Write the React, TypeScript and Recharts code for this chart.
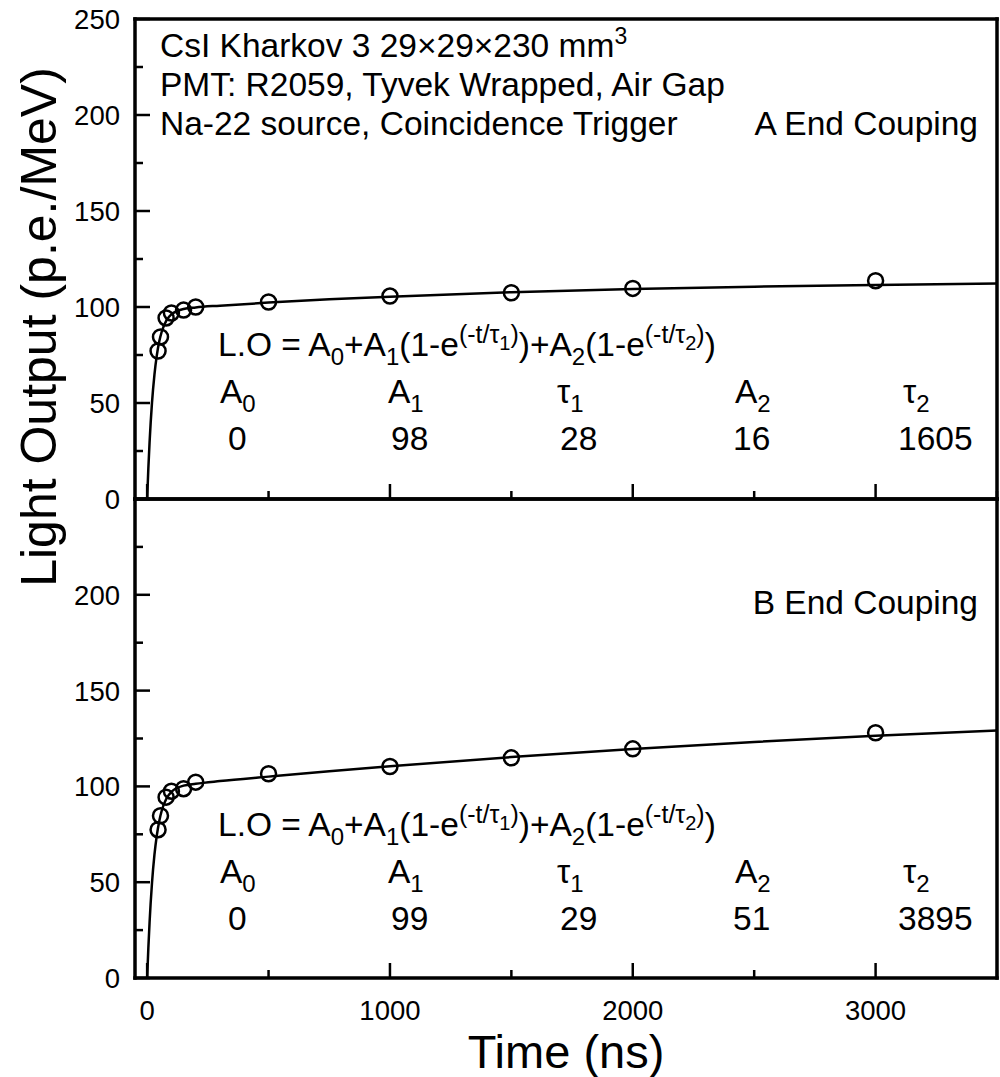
import React from 'react';
import { ComposedChart, Line, Scatter, XAxis, YAxis } from 'recharts';

// ---------- data ----------
const curveT = [0, 5, 10, 20, 30, 40, 50, 60, 80, 100, 150, 200, 300, 500, 750, 1000, 1500, 2000, 2500, 3000, 3500];
const curveA = [0, 16.1, 29.5, 50.2, 64.7, 74.9, 82.1, 87.1, 93.2, 96.2, 99.0, 99.8, 100.7, 102.3, 104.0, 105.4, 107.7, 109.4, 110.6, 111.5, 112.2];
const curveB = [0, 15.7, 29.0, 49.6, 64.2, 74.6, 82.0, 87.3, 93.8, 97.2, 100.4, 101.4, 102.8, 105.1, 107.9, 110.5, 115.3, 119.5, 123.2, 126.4, 129.2];

const pointT = [45, 55, 78, 100, 150, 200, 500, 1000, 1500, 2000, 3000];
const pointA = [77.1, 84.4, 94.3, 96.9, 98.4, 100.0, 102.6, 105.7, 107.4, 109.7, 113.7];
const pointB = [77.4, 84.7, 94.4, 97.5, 98.8, 102.2, 106.6, 110.4, 114.9, 119.6, 128.0];

const yTicks = [0, 25, 50, 75, 100, 125, 150, 175, 200, 225, 250];
const yLabelTicks = [0, 50, 100, 150, 200, 250];
const xTicks = [0, 500, 1000, 1500, 2000, 2500, 3000, 3500];
const xLabelTicks = [0, 1000, 2000, 3000];

const paramNames: [string, string][] = [['A', '0'], ['A', '1'], ['τ', '1'], ['A', '2'], ['τ', '2']];
const paramsA = ['0', '98', '28', '16', '1605'];
const paramsB = ['0', '99', '29', '51', '3895'];

const infoLines = ['PMT: R2059, Tyvek Wrapped, Air Gap', 'Na-22 source, Coincidence Trigger'];

const toRows = (xs: number[], ys: number[]) => xs.map((t, i) => ({ t, y: ys[i] }));

// ---------- styles ----------
const FONT = "'Liberation Sans', Arial, Helvetica, sans-serif";
const AX = { stroke: '#000', strokeWidth: 3.5, strokeLinecap: 'square' as const };
const TW = 2.5;
const MAJ = 15;
const MIN = 8;
const FS = 33.5;

type Seg = { t: string; s?: number; b?: number };
function Rich({ x, y, segs, size, anchor = 'start' }: { x: number; y: number; segs: Seg[]; size: number; anchor?: string }) {
  let prev = 0;
  return (
    <text x={x} y={y} fontSize={size} fontFamily={FONT} fill="#000" textAnchor={anchor as any}>
      {segs.map((sg, i) => {
        const b = sg.b || 0;
        const dy = prev - b;
        prev = b;
        return (
          <tspan key={i} dy={dy} fontSize={sg.s || size}>
            {sg.t}
          </tspan>
        );
      })}
    </text>
  );
}

const makeLeftTick = (hide: number[]) => (p: any) => {
  const v = p.payload.value;
  const major = v % 50 === 0;
  return (
    <g>
      <line x1={p.x} x2={p.x + (major ? MAJ : MIN)} y1={p.y} y2={p.y} stroke="#000" strokeWidth={TW} />
      {yLabelTicks.includes(v) && !hide.includes(v) && (
        <text x={p.x - 15} y={p.y} dy="0.36em" textAnchor="end" fontSize={27.5} fontFamily={FONT} fill="#000">
          {v}
        </text>
      )}
    </g>
  );
};
const RightTick = (p: any) => {
  const v = p.payload.value;
  const major = v % 50 === 0;
  return <line x1={p.x} x2={p.x - (major ? MAJ : MIN)} y1={p.y} y2={p.y} stroke="#000" strokeWidth={TW} />;
};
const makeBottomTick = (labels: boolean) => (p: any) => {
  const v = p.payload.value;
  const major = v % 1000 === 0;
  return (
    <g>
      <line x1={p.x} x2={p.x} y1={p.y} y2={p.y - (major ? MAJ : MIN)} stroke="#000" strokeWidth={TW} />
      {labels && xLabelTicks.includes(v) && (
        <text x={p.x} y={p.y + 32} dy="0.36em" textAnchor="middle" fontSize={27.5} fontFamily={FONT} fill="#000">
          {v}
        </text>
      )}
    </g>
  );
};
const TopTick = (p: any) => {
  const v = p.payload.value;
  const major = v % 1000 === 0;
  return <line x1={p.x} x2={p.x} y1={p.y} y2={p.y + (major ? MAJ : MIN)} stroke="#000" strokeWidth={TW} />;
};

const Circle = (p: any) => <circle cx={p.cx} cy={p.cy} r={7.5} fill="none" stroke="#000" strokeWidth={2.5} />;

function Panel({ top, height, topH, botH, curve, points, labels, hide }: any) {
  return (
    <div style={{ position: 'absolute', left: 0, top }}>
      <ComposedChart width={1000} height={height} margin={{ top: 0, right: 0, bottom: 0, left: 0 }}>
        <XAxis
          xAxisId="b"
          dataKey="t"
          type="number"
          domain={[-50, 3500]}
          ticks={xTicks}
          interval={0}
          orientation="bottom"
          height={botH}
          axisLine={AX}
          tickLine={false}
          tickSize={0}
          tickMargin={0}
          tick={makeBottomTick(labels)}
        />
        <XAxis
          xAxisId="t"
          dataKey="t"
          type="number"
          domain={[-50, 3500]}
          ticks={xTicks}
          interval={0}
          orientation="top"
          height={topH}
          axisLine={AX}
          tickLine={false}
          tickSize={0}
          tickMargin={0}
          tick={TopTick}
        />
        <YAxis
          yAxisId="l"
          type="number"
          domain={[0, 250]}
          ticks={yTicks}
          interval={0}
          orientation="left"
          width={135}
          axisLine={AX}
          tickLine={false}
          tickSize={0}
          tickMargin={0}
          tick={makeLeftTick(hide)}
        />
        <YAxis
          yAxisId="r"
          type="number"
          domain={[0, 250]}
          ticks={yTicks}
          interval={0}
          orientation="right"
          width={3}
          axisLine={AX}
          tickLine={false}
          tickSize={0}
          tickMargin={0}
          tick={RightTick}
        />
        <Line
          xAxisId="b"
          yAxisId="l"
          data={curve}
          dataKey="y"
          type="monotone"
          dot={false}
          stroke="#000"
          strokeWidth={2.5}
          isAnimationActive={false}
        />
        <Scatter xAxisId="b" yAxisId="l" data={points} dataKey="y" shape={Circle} isAnimationActive={false} />
      </ComposedChart>
    </div>
  );
}

function ParamBlock({ dy, values }: { dy: number; values: string[] }) {
  const lx = [220, 388, 557, 735, 903];
  const vx = [228, 391, 560, 733, 898];
  return (
    <g>
      <Rich
        x={218}
        y={356 + dy}
        size={FS}
        segs={[
          { t: 'L.O = A' },
          { t: '0', s: 24, b: -9 },
          { t: '+A' },
          { t: '1', s: 24, b: -9 },
          { t: '(1-e' },
          { t: '(-t/τ', s: 25, b: 13 },
          { t: '1', s: 20, b: 6 },
          { t: ')', s: 25, b: 13 },
          { t: ')+A' },
          { t: '2', s: 24, b: -9 },
          { t: '(1-e' },
          { t: '(-t/τ', s: 25, b: 13 },
          { t: '2', s: 20, b: 6 },
          { t: ')', s: 25, b: 13 },
          { t: ')' },
        ]}
      />
      {paramNames.map(([a, s], i) => (
        <Rich key={'n' + i} x={lx[i]} y={403 + dy} size={FS} segs={[{ t: a }, { t: s, s: 24, b: -9 }]} />
      ))}
      {values.map((v, i) => (
        <text key={'v' + i} x={vx[i]} y={450 + dy} fontSize={FS} fontFamily={FONT} fill="#000">
          {v}
        </text>
      ))}
    </g>
  );
}

export default function App() {
  const cA = toRows(curveT, curveA);
  const cB = toRows(curveT, curveB);
  const pA = toRows(pointT, pointA);
  const pB = toRows(pointT, pointB);
  return (
    <div style={{ position: 'absolute', left: 0, top: 0, width: 1000, height: 1077, background: '#fff' }}>
      <Panel top={0} height={520} topH={19} botH={21} curve={cA} points={pA} labels={false} hide={[]} />
      <Panel top={489} height={588} topH={10} botH={99} curve={cB} points={pB} labels={true} hide={[250]} />
      <svg
        width={1000}
        height={1077}
        style={{ position: 'absolute', left: 0, top: 0, pointerEvents: 'none' }}
      >
        <Rich
          x={160}
          y={57}
          size={FS}
          segs={[{ t: 'CsI Kharkov 3 29×29×230 mm' }, { t: '3', s: 23, b: 13 }]}
        />
        {infoLines.map((l, i) => (
          <text key={i} x={160} y={96 + i * 39} fontSize={FS} fontFamily={FONT} fill="#000">
            {l}
          </text>
        ))}
        <text x={978} y={135} fontSize={FS} fontFamily={FONT} fill="#000" textAnchor="end">
          A End Couping
        </text>
        <text x={978} y={614} fontSize={FS} fontFamily={FONT} fill="#000" textAnchor="end">
          B End Couping
        </text>
        <ParamBlock dy={0} values={paramsA} />
        <ParamBlock dy={480} values={paramsB} />
        <text
          x={56}
          y={327}
          fontSize={50}
          fontFamily={FONT}
          fill="#000"
          textAnchor="middle"
          transform="rotate(-90, 56, 327)"
        >
          Light Output (p.e./MeV)
        </text>
        <text x={566} y={1068} fontSize={47} fontFamily={FONT} fill="#000" textAnchor="middle">
          Time (ns)
        </text>
      </svg>
    </div>
  );
}
